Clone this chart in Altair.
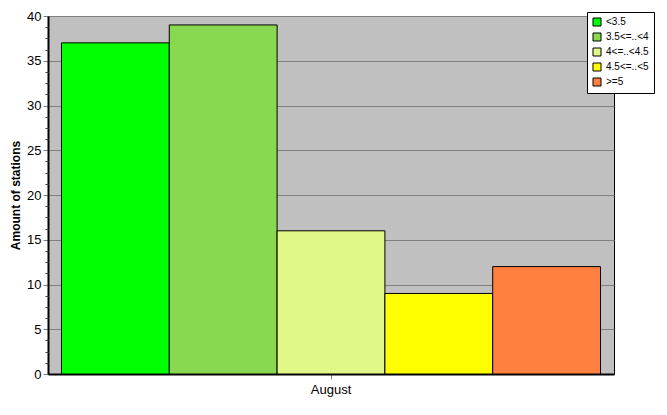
import altair as alt
import pandas as pd

months = ["August"] * 5
classes = ["<3.5", "3.5<=..<4", "4<=..<4.5", "4.5<=..<5", ">=5"]
counts = [37, 39, 16, 9, 12]
colors = ["#00FF00", "#88D850", "#E0F888", "#FFFF00", "#FF8040"]
major_ticks = [0, 5, 10, 15, 20, 25, 30, 35, 40]
minor_ticks = [i * 1.25 for i in range(33) if i % 4 != 0]

df = pd.DataFrame({"month": months, "cls": classes, "count": counts})

FONT = "Liberation Sans"

base = alt.Chart(df)

bars = base.mark_bar(stroke="black", strokeWidth=1, opacity=1).encode(
    x=alt.X("month:N", title=None,
            scale=alt.Scale(paddingInner=0, paddingOuter=0.025),
            axis=alt.Axis(labelAngle=0, labelFont=FONT, labelFontSize=13, labelColor="black",
                          domainColor="black", domainWidth=2, tickColor="#808080",
                          tickSize=5, labelPadding=4)),
    xOffset=alt.XOffset("cls:N", sort=classes,
                        scale=alt.Scale(paddingInner=0, paddingOuter=0)),
    y=alt.Y("count:Q", title="Amount of stations",
            scale=alt.Scale(domain=[0, 40], nice=False),
            axis=alt.Axis(values=major_ticks, labelFont=FONT, labelFontSize=13,
                          labelColor="black", titleFont=FONT, titleFontSize=12,
                          titleFontWeight="bold", titleColor="black", titlePadding=4,
                          domainColor="black", domainWidth=2, tickColor="#808080",
                          tickSize=5, gridColor="#808080", gridWidth=1, labelPadding=2)),
    color=alt.Color("cls:N", sort=classes, scale=alt.Scale(domain=classes, range=colors),
                    legend=alt.Legend(title=None, orient="none", legendX=539, legendY=-4,
                                      symbolType="square", symbolStrokeColor="black",
                                      symbolStrokeWidth=1, symbolSize=64,
                                      labelFont=FONT, labelFontSize=10, labelColor="black",
                                      strokeColor="black", fillColor="white",
                                      padding=5, rowPadding=3, symbolOffset=0, labelOffset=4,
                                      labelLimit=60)),
)

minor = base.mark_bar(opacity=0).encode(
    y=alt.Y("count:Q", scale=alt.Scale(domain=[0, 40], nice=False),
            axis=alt.Axis(orient="left", values=minor_ticks, labels=False, title=None,
                          grid=False, domain=False, tickColor="#404040", tickSize=3)),
)

chart = alt.layer(bars, minor).resolve_axis(y="independent").properties(
    width=566, height=358,
    background="white",
    padding={"left": 40, "top": 8, "right": 45, "bottom": 33},
    autosize=alt.AutoSizeParams(type="none"),
).configure_view(fill="#C0C0C0", stroke="black", strokeWidth=1)

chart.save("out.html", embed_options={"renderer": "svg", "actions": False})
